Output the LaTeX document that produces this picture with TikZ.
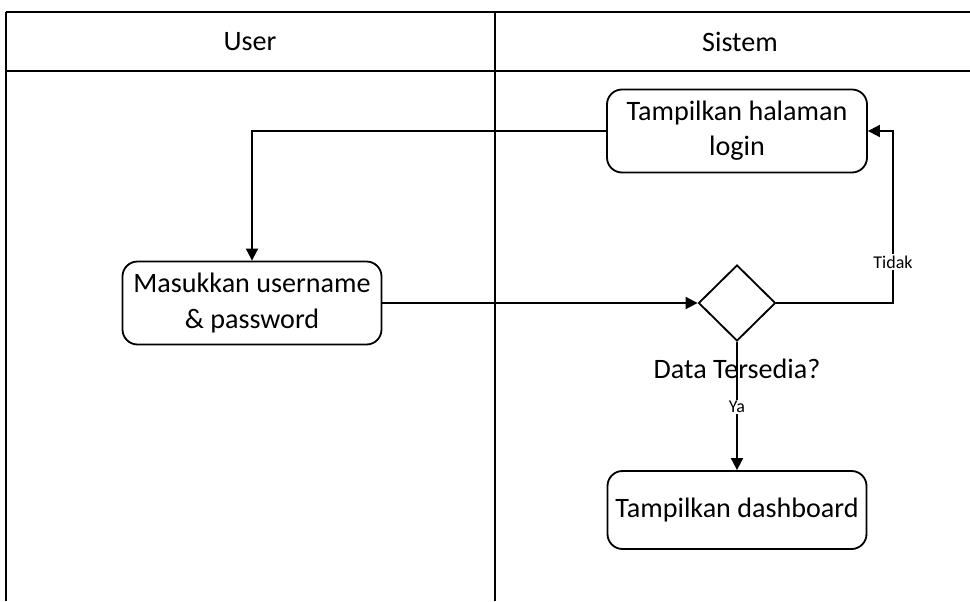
\documentclass[tikz,border=0pt]{standalone}
\usepackage{fontspec}
\setmainfont{Carlito}
\usetikzlibrary{positioning}
\usetikzlibrary{shapes.geometric, arrows.meta}

\tikzset{
  aksi/.style={rectangle,rounded corners=0.375cm,draw,line width=1.3pt,align=center,
    font=\fontsize{20}{25}\selectfont},
  cekbox/.style={diamond,draw,line width=1.3pt,minimum width=1.925cm,minimum height=1.9cm,inner sep=0pt},
  alur/.style={line width=1.3pt,-{Triangle[length=0.3cm,width=0.3cm]}},
  kecil/.style={font=\fontsize{12.8}{14}\selectfont,fill=white,inner sep=1pt},
  lajur/.style={line width=1.1pt},
}

\begin{document}
\begin{tikzpicture}
\useasboundingbox (0,0) rectangle (24.25,15.025);
% swimlane frame
\draw[lajur] (0.15,14.725) -- (24.25,14.725);
\draw[lajur] (0.15,13.25) -- (24.25,13.25);
\draw[lajur] (0.15,0) -- (0.15,14.725);
\draw[line width=0.8pt] (12.375,0) -- (12.375,14.725);
\node[font=\fontsize{20}{25}\selectfont] (user) at (6.25,13.975) {User};
\node[font=\fontsize{20}{25}\selectfont] (sistem) at (18.5,13.975) {Sistem};

% activities
\node[aksi,minimum width=6.5cm,minimum height=2.075cm] (login) at (18.425,11.75) {Tampilkan halaman\\login};
\node[aksi,minimum width=6.475cm,minimum height=2.075cm] (masuk) at (6.3,7.45) {Masukkan username\\\& password};
\node[cekbox] (cek) at (18.425,7.45) {};
\node[font=\fontsize{20}{25}\selectfont,inner sep=0pt] (tanya) at (18.425,5.8) {Data Tersedia?};
\node[aksi,minimum width=6.475cm,minimum height=1.95cm] (dash) at (18.425,2.275) {Tampilkan dashboard};
\coordinate (belok) at (22.325,7.45);

% flows
\draw[alur] (login.west) -| (masuk.north);
\draw[alur] (masuk.east) -- (cek.west);
\draw[alur] (cek.east) -- (belok) |- (login.east);
\draw[alur] (cek.south) -- (dash.north);
\node[kecil] (tidak) at (22.325,8.475) {Tidak};
\node[kecil] (ya) at (18.425,4.85) {Ya};

\end{tikzpicture}
\end{document}
